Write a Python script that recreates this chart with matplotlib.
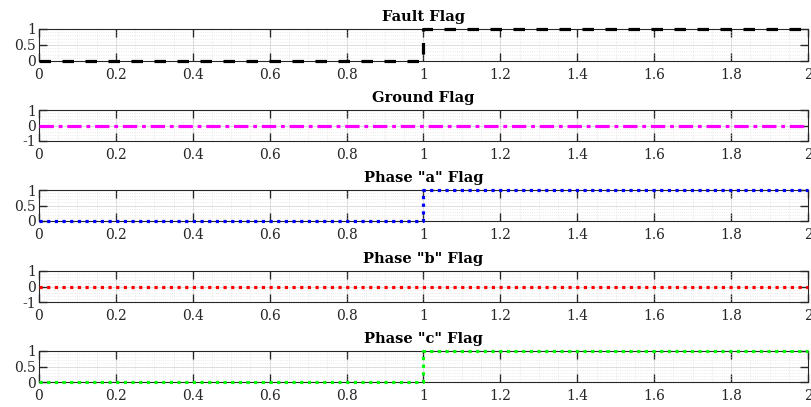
import matplotlib.pyplot as plt
import numpy as np
from matplotlib.ticker import MultipleLocator

# signal data (time in s)
t = [0, 1, 1, 2]
fault_flag = [0, 0, 1, 1]
ground_flag = [0, 0, 0, 0]
phase_a_flag = [0, 0, 1, 1]
phase_b_flag = [0, 0, 0, 0]
phase_c_flag = [0, 0, 1, 1]

titles = ['Fault Flag', 'Ground Flag', 'Phase "a" Flag', 'Phase "b" Flag', 'Phase "c" Flag']
series = [fault_flag, ground_flag, phase_a_flag, phase_b_flag, phase_c_flag]
colors = ['black', '#ff00ff', '#0000ff', '#ff0000', '#00ff00']
styles = [(0, (3.6, 3.6)), (0, (4.5, 1.5, 1.2, 1.5)), (0, (1, 1.4)), (0, (1, 1.4)), (0, (1, 1.4))]
ylims = [(0, 1), (-1, 1), (0, 1), (-1, 1), (0, 1)]
yticks = [[0, 0.5, 1], [-1, 0, 1], [0, 0.5, 1], [-1, 0, 1], [0, 0.5, 1]]
ytlabels = [['0', '0.5', '1'], ['-1', '0', '1'], ['0', '0.5', '1'], ['-1', '0', '1'], ['0', '0.5', '1']]

plt.rcParams['font.family'] = ['DejaVu Serif']

fig = plt.figure(figsize=(8.12, 4.07), dpi=100)

# axes boxes in pixel coords (top, bottom)
boxes = [(29, 61), (110, 141), (190, 221), (271, 302), (351, 382)]
left, right = 39, 808
W, H = 812, 407

for i in range(5):
    top, bot = boxes[i]
    ax = fig.add_axes([left / W, 1 - bot / H, (right - left) / W, (bot - top) / H])
    ax.plot(t, series[i], color=colors[i], linestyle=styles[i], linewidth=2.3,
            clip_on=False, zorder=5)
    ax.set_xlim(0, 2)
    ax.set_ylim(*ylims[i])
    ax.set_xticks(np.arange(0, 2.01, 0.2))
    ax.set_xticklabels(['0', '0.2', '0.4', '0.6', '0.8', '1', '1.2', '1.4', '1.6', '1.8', '2'])
    ax.set_yticks(yticks[i])
    ax.set_yticklabels(ytlabels[i])
    ax.xaxis.set_minor_locator(MultipleLocator(0.05))
    ax.yaxis.set_minor_locator(MultipleLocator(0.1 if ylims[i][0] == 0 else 0.2))
    ax.grid(True, which='major', color='#dcdcdc', linewidth=0.7)
    ax.grid(True, which='minor', color='#e4e4e4', linestyle=':', linewidth=0.6)
    ax.set_axisbelow(True)
    ax.tick_params(which='major', direction='in', length=6, top=True, right=True,
                   labelsize=10, colors='#262626', width=1)
    ax.tick_params(axis='x', pad=5)
    ax.tick_params(axis='y', pad=2)
    ax.tick_params(which='minor', length=0)
    for s in ax.spines.values():
        s.set_color('#262626')
        s.set_linewidth(0.8)
    ax.set_title(titles[i], fontsize=10.5, fontweight='bold', pad=6)

fig.savefig('out.png', dpi=100)
